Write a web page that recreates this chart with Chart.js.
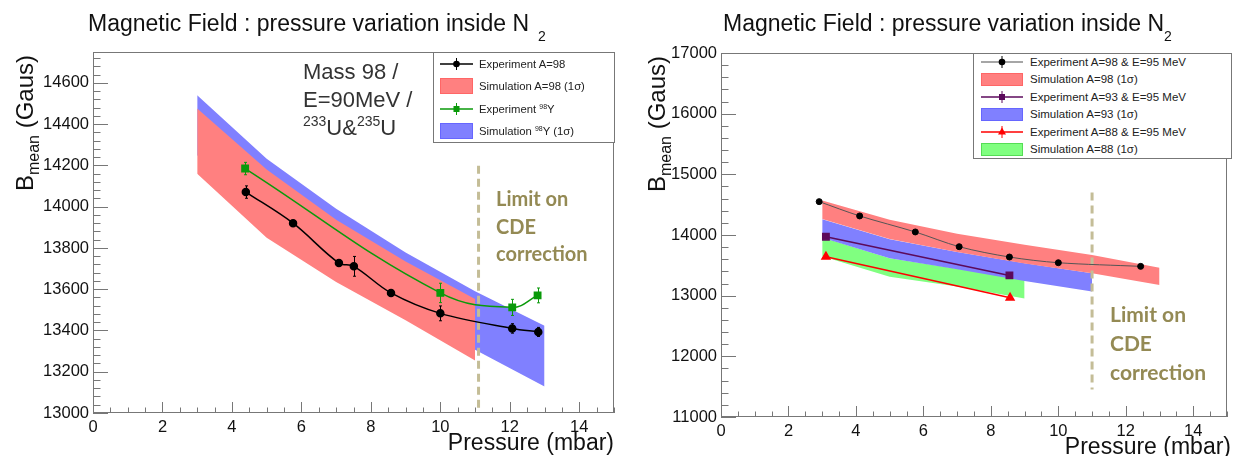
<!DOCTYPE html>
<html>
<head>
<meta charset="utf-8">
<title>Magnetic Field : pressure variation inside N2</title>
<script src="https://cdn.jsdelivr.net/npm/chart.js@4.4.1/dist/chart.umd.min.js"></script>
<style>
  html, body { margin: 0; padding: 0; background: #fff; }
  body { width: 1233px; height: 456px; position: relative; overflow: hidden; font-family: 'Liberation Sans', Arial, sans-serif; color: #111; }
  .box { position: absolute; top: 0; height: 456px; }
  .ov { position: absolute; white-space: nowrap; z-index: 2; }
  .title { top: 12px; font-size: 23px; line-height: 23px; }
  .title sub { font-size: 14px; vertical-align: -10px; line-height: 0; }
  .ytitle { width: 220px; font-size: 24px; line-height: 24px; text-align: right; transform-origin: 0 0; transform: rotate(-90deg); }
  .ytitle sub { font-size: 16px; vertical-align: -6px; line-height: 0; }
  .xtitle { font-size: 23px; line-height: 23px; }
  .mass { font-size: 22px; line-height: 28px; color: #333; }
  .mass sup { font-size: 14px; vertical-align: 9px; line-height: 0; }
  .limit { font-family: Lato, 'Open Sans', sans-serif; font-weight: bold; color: #948a54; }
  .legend { position: absolute; z-index: 2; background: #fff; border: 1px solid #777; box-sizing: border-box; color: #222; }
  .row { position: absolute; left: 0; height: 16px; display: flex; align-items: center; }
  .row sup { font-size: 7px; vertical-align: 4px; line-height: 0; }
</style>
</head>
<body>
<div class="box" style="left:0;width:620px"><canvas id="leftChart"></canvas></div>
<div class="box" style="left:620px;width:613px"><canvas id="rightChart"></canvas></div>

<div class="ov title" style="left:88px">Magnetic Field : pressure variation inside N<sub style="margin-left:9px">2</sub></div>
<div class="ov title" style="left:723px">Magnetic Field : pressure variation inside N<sub>2</sub></div>
<div class="ov ytitle" style="left:13px;top:275px">B<sub>mean</sub> (Gaus)</div>
<div class="ov ytitle" style="left:645px;top:276px">B<sub>mean</sub> (Gaus)</div>
<div class="ov xtitle" style="right:619px;top:431px">Pressure (mbar)</div>
<div class="ov xtitle" style="right:2px;top:435px">Pressure (mbar)</div>
<div class="ov mass" style="left:303px;top:58px">Mass 98 /<br>E=90MeV /<br><sup>233</sup>U&amp;<sup>235</sup>U</div>
<div class="ov limit" style="left:496px;top:185px;font-size:20px;line-height:27.5px">Limit on<br>CDE<br>correction</div>
<div class="ov limit" style="left:1110px;top:299px;font-size:21px;line-height:29px">Limit on<br>CDE<br>correction</div>
<div id="leftLegend" class="legend" style="left:433px;top:52px;width:182px;height:91px"></div>
<div id="rightLegend" class="legend" style="left:973px;top:53px;width:259px;height:106px"></div>

<script>
// ---- left panel: mass 98, E=90MeV ----
const expA98P = [4.4, 5.76, 7.08, 7.51, 8.58, 10.0, 12.07, 12.82];
const expA98B = [14071, 13920, 13727, 13711, 13582, 13483, 13410, 13393];
const expA98Err = [30, 10, 12, 48, 10, 36, 23, 22];

const exp98YP = [4.38, 10.0, 12.07, 12.8];
const exp98YB = [14185, 13582, 13512, 13570];
const exp98YErr = [30, 47, 39, 36];

const simA98P = [3, 5, 7, 9, 11];
const simA98Hi = [14476, 14180, 13937, 13735, 13553];
const simA98Lo = [14160, 13850, 13635, 13450, 13255];

const sim98YP = [3, 5, 7, 9, 11, 13];
const sim98YHi = [14540, 14232, 13990, 13778, 13590, 13423];
const sim98YLo = [14250, 13950, 13700, 13490, 13307, 13129];

const limitLeftX = [11.1, 11.1];
const limitLeftY = [14198, 13020];

// ---- right panel: E=95MeV, A=98/93/88 ----
const exp98P = [2.91, 4.11, 5.76, 7.06, 8.55, 10.0, 12.44];
const exp98B = [14550, 14314, 14050, 13807, 13637, 13543, 13483];
const exp98Err = [15, 15, 15, 15, 15, 15, 15];
const exp93P = [3.11, 8.55];
const exp93B = [13972, 13334];
const exp93Err = [20, 20];
const exp88P = [3.11, 8.57];
const exp88B = [13642, 12965];
const exp88Err = [20, 20];

const sim98P = [3, 5, 7, 9, 11, 13];
const sim98Hi = [14570, 14250, 14020, 13840, 13670, 13460];
const sim98Lo = [14265, 13935, 13720, 13530, 13370, 13175];
const sim93P = [3, 5, 7, 9, 11];
const sim93Hi = [14260, 13930, 13720, 13535, 13370];
const sim93Lo = [13955, 13615, 13435, 13240, 13070];
const sim88P = [3, 5, 7, 9];
const sim88Hi = [13960, 13615, 13445, 13270];
const sim88Lo = [13650, 13310, 13150, 12955];

const limitRightX = [11, 11];
const limitRightY = [14700, 11455];

// axis ticks
const xTickStep = 2;
const leftYTickStep = 200;
const rightYTickStep = 1000;

const RED_FILL = '#ff8080';
const BLUE_FILL = '#8080ff';
const GREEN_FILL = '#80ff80';

Chart.defaults.font.family = "'Liberation Sans', Arial, sans-serif";
Chart.defaults.color = '#111';

const pts = (xs, ys) => xs.map((x, i) => ({x: x, y: ys[i]}));

// band = upper curve filled down to the lower curve
const band = (xs, hi, lo, color) => [
    {data: pts(xs, hi), backgroundColor: color, borderColor: 'rgba(0,0,0,0)', borderWidth: 0, pointRadius: 0, fill: '+1', tension: 0},
    {data: pts(xs, lo), borderColor: 'rgba(0,0,0,0)', borderWidth: 0, pointRadius: 0, fill: false, tension: 0}
];

const limitLine = (xs, ys) => ({
    data: pts(xs, ys), borderColor: '#c4bd97', borderWidth: 3, borderDash: [8, 5],
    pointRadius: 0, fill: false
});

// vertical error bars
const errorBars = {
    id: 'errorBars',
    afterDatasetsDraw(chart) {
        const ctx = chart.ctx;
        const y = chart.scales.y;
        chart.data.datasets.forEach((ds, i) => {
            if (!ds.yErr) return;
            const meta = chart.getDatasetMeta(i);
            ctx.save();
            ctx.strokeStyle = ds.pointBackgroundColor || ds.borderColor;
            ctx.lineWidth = 1;
            meta.data.forEach((pt, j) => {
                const lo = y.getPixelForValue(ds.data[j].y - ds.yErr[j]);
                const hi = y.getPixelForValue(ds.data[j].y + ds.yErr[j]);
                const px = Math.round(pt.x) + 0.5;
                ctx.beginPath();
                ctx.moveTo(px, lo); ctx.lineTo(px, hi);
                ctx.moveTo(px - 1.5, lo); ctx.lineTo(px + 1.5, lo);
                ctx.moveTo(px - 1.5, hi); ctx.lineTo(px + 1.5, hi);
                ctx.stroke();
            });
            ctx.restore();
        });
    }
};

// ROOT-like frame with inward ticks
const rootAxes = {
    id: 'rootAxes',
    afterDraw(chart, args, opts) {
        const {ctx, chartArea: a, scales: {x, y}} = chart;
        ctx.save();
        ctx.strokeStyle = '#777';
        ctx.lineWidth = 1;
        ctx.strokeRect(a.left + 0.5, a.top + 0.5, a.right - a.left - 1, a.bottom - a.top - 1);
        ctx.beginPath();
        for (let k = 0; ; k++) {
            const v = x.min + k * opts.xMinor;
            if (v > x.max + 1e-9) break;
            const px = Math.round(x.getPixelForValue(v)) + 0.5;
            const major = Math.abs(v / opts.xMajor - Math.round(v / opts.xMajor)) < 1e-6;
            ctx.moveTo(px, a.bottom);
            ctx.lineTo(px, a.bottom - (major ? opts.xLen : opts.xLen / 2));
        }
        for (let k = 0; ; k++) {
            const v = y.min + k * opts.yMinor;
            if (v > y.max + 1e-9) break;
            const py = Math.round(y.getPixelForValue(v)) + 0.5;
            const major = Math.abs(v / opts.yMajor - Math.round(v / opts.yMajor)) < 1e-6;
            ctx.moveTo(a.left, py);
            ctx.lineTo(a.left + (major ? opts.yLen : opts.yLen / 2), py);
        }
        ctx.stroke();
        ctx.restore();
    }
};

const makeScales = (yMin, yMax, yStep, yWidth, xHeight) => ({
    x: {
        type: 'linear', min: 0, max: 15,
        ticks: {stepSize: xTickStep, includeBounds: false, autoSkip: false, maxRotation: 0, padding: 5, font: {size: 16.5}, color: '#111'},
        grid: {display: false, drawTicks: false},
        border: {display: false},
        afterFit: (s) => { s.height = xHeight; }
    },
    y: {
        type: 'linear', min: yMin, max: yMax,
        ticks: {stepSize: yStep, includeBounds: false, autoSkip: false, padding: 4, font: {size: 16.5}, color: '#111', callback: (v) => String(v)},
        grid: {display: false, drawTicks: false},
        border: {display: false},
        afterFit: (s) => { s.width = yWidth; }
    }
});

new Chart(document.getElementById('leftChart'), {
    type: 'line',
    data: {
        datasets: [
            {data: pts(expA98P, expA98B), yErr: expA98Err, borderColor: '#000', backgroundColor: '#000',
                borderWidth: 1.5, pointStyle: 'circle', pointRadius: 3.5, tension: 0.35, fill: false},
            {data: pts(exp98YP, exp98YB), yErr: exp98YErr, borderColor: '#0a9a0a', backgroundColor: '#0a9a0a',
                borderWidth: 1.5, pointStyle: 'rect', pointRadius: 4.5, tension: 0.4, fill: false},
            limitLine(limitLeftX, limitLeftY),
            ...band(simA98P, simA98Hi, simA98Lo, RED_FILL),
            ...band(sim98YP, sim98YHi, sim98YLo, BLUE_FILL)
        ]
    },
    options: {
        responsive: true,
        maintainAspectRatio: false,
        animation: false,
        events: [],
        layout: {padding: {top: 52, right: 5, left: 0, bottom: 0}},
        scales: makeScales(13000, 14750, leftYTickStep, 93, 43),
        plugins: {
            legend: {display: false},
            tooltip: {enabled: false},
            rootAxes: {xMajor: 2, xMinor: 0.5, xLen: 11, yMajor: 200, yMinor: 40, yLen: 15}
        }
    },
    plugins: [errorBars, rootAxes]
});

new Chart(document.getElementById('rightChart'), {
    type: 'line',
    data: {
        datasets: [
            {data: pts(exp98P, exp98B), yErr: exp98Err, borderColor: '#555', pointBackgroundColor: '#000', pointBorderColor: '#000',
                borderWidth: 1, pointStyle: 'circle', pointRadius: 3, tension: 0.3, fill: false},
            {data: pts(exp93P, exp93B), yErr: exp93Err, borderColor: '#5c0a5c', backgroundColor: '#5c0a5c',
                borderWidth: 1.5, pointStyle: 'rect', pointRadius: 4.5, tension: 0, fill: false},
            {data: pts(exp88P, exp88B), yErr: exp88Err, borderColor: '#ff0000', backgroundColor: '#ff0000',
                borderWidth: 1.5, pointStyle: 'triangle', pointRadius: 4.5, tension: 0, fill: false},
            limitLine(limitRightX, limitRightY),
            ...band(sim98P, sim98Hi, sim98Lo, RED_FILL),
            ...band(sim93P, sim93Hi, sim93Lo, BLUE_FILL),
            ...band(sim88P, sim88Hi, sim88Lo, GREEN_FILL)
        ]
    },
    options: {
        responsive: true,
        maintainAspectRatio: false,
        animation: false,
        events: [],
        layout: {padding: {top: 53, right: 1, left: 0, bottom: 0}},
        scales: makeScales(11000, 17000, rightYTickStep, 101, 39),
        plugins: {
            legend: {display: false},
            tooltip: {enabled: false},
            rootAxes: {xMajor: 2, xMinor: 0.5, xLen: 11, yMajor: 1000, yMinor: 200, yLen: 15}
        }
    },
    plugins: [errorBars, rootAxes]
});

// ---- legends (ROOT TLegend look) ----
const leftLegend = [
    {label: 'Experiment A=98', line: '#000', color: '#000', marker: 'circle'},
    {label: 'Simulation A=98 (1σ)', fill: RED_FILL, edge: '#f66'},
    {label: 'Experiment <sup>98</sup>Y', line: '#0a9a0a', color: '#0a9a0a', marker: 'square'},
    {label: 'Simulation <sup>98</sup>Y (1σ)', fill: BLUE_FILL, edge: '#66f'}
];
const rightLegend = [
    {label: 'Experiment A=98 &amp; E=95 MeV', line: '#888', color: '#000', marker: 'circle'},
    {label: 'Simulation A=98 (1σ)', fill: RED_FILL, edge: '#f66'},
    {label: 'Experiment A=93 &amp; E=95 MeV', line: '#5c0a5c', color: '#5c0a5c', marker: 'square'},
    {label: 'Simulation A=93 (1σ)', fill: BLUE_FILL, edge: '#66f'},
    {label: 'Experiment A=88 &amp; E=95 MeV', line: '#ff0000', color: '#ff0000', marker: 'triangle'},
    {label: 'Simulation A=88 (1σ)', fill: GREEN_FILL, edge: '#5d5'}
];

const markerSvg = (m, cx, c) => {
    if (m === 'circle') return `<circle cx="${cx}" cy="8" r="3.3" fill="${c}"/>`;
    if (m === 'square') return `<rect x="${cx - 3}" y="5" width="6" height="6" fill="${c}"/>`;
    return `<polygon points="${cx},3.5 ${cx + 4},10.5 ${cx - 4},10.5" fill="${c}"/>`;
};

const buildLegend = (el, items, cfg) => {
    items.forEach((it, i) => {
        const top = cfg.first + i * cfg.step - 8;
        let sample;
        if (it.fill) {
            sample = `<div style="width:${cfg.sw}px;height:${cfg.sh}px;background:${it.fill};box-sizing:border-box;border:1px solid ${it.edge}"></div>`;
        } else {
            const cx = cfg.sw / 2;
            sample = `<svg width="${cfg.sw}" height="16"><line x1="0" y1="8" x2="${cfg.sw}" y2="8" stroke="${it.line}" stroke-width="1.3"/>` +
                `<line x1="${cx}" y1="2" x2="${cx}" y2="14" stroke="${it.color}" stroke-width="1"/>${markerSvg(it.marker, cx, it.color)}</svg>`;
        }
        el.insertAdjacentHTML('beforeend',
            `<div class="row" style="top:${top}px;left:${cfg.sx}px;font-size:${cfg.font}px">` +
            `<div style="width:${cfg.sw}px;display:flex;align-items:center">${sample}</div>` +
            `<span style="margin-left:${cfg.gap}px">${it.label}</span></div>`);
    });
};

buildLegend(document.getElementById('leftLegend'), leftLegend, {first: 11, step: 22.3, sx: 6, sw: 33, sh: 16, gap: 6, font: 11.3});
buildLegend(document.getElementById('rightLegend'), rightLegend, {first: 8, step: 17.4, sx: 7, sw: 42, sh: 13, gap: 7, font: 11.5});
</script>
</body>
</html>
